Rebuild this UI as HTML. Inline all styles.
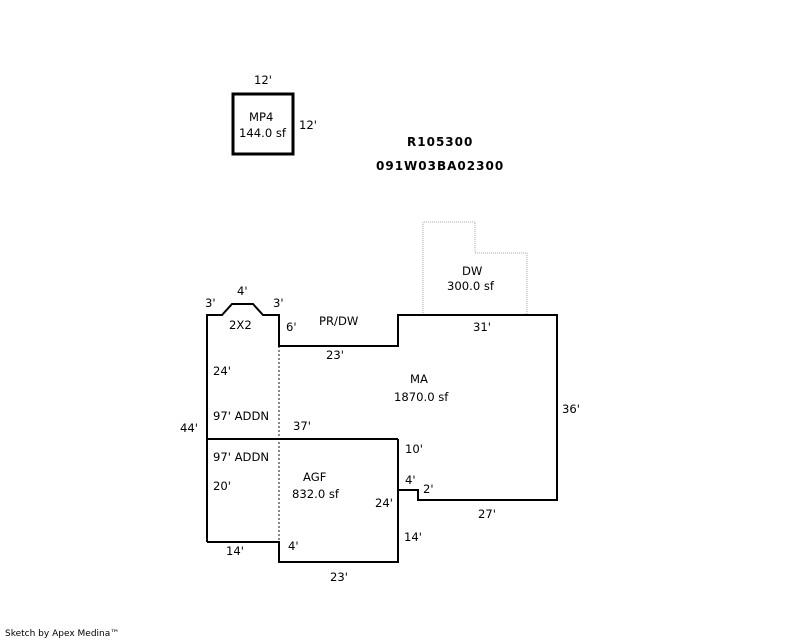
<!DOCTYPE html>
<html><head><meta charset="utf-8"><style>
html,body{margin:0;padding:0;background:#fff;}
svg{display:block;}
text{font-family:"DejaVu Sans","Liberation Sans",sans-serif;font-size:11.6px;fill:#000;}
.b{font-weight:bold;font-size:12px;letter-spacing:1px;}
</style></head><body>
<svg width="800" height="640" viewBox="0 0 800 640" xmlns="http://www.w3.org/2000/svg">
<rect x="233" y="94" width="60" height="60" fill="none" stroke="#000" stroke-width="3"/>
<polyline points="423,315 423,222 475,222 475,253 527,253 527,315" fill="none" stroke="#aaa" stroke-width="1" stroke-dasharray="1,1"/>
<line x1="279" y1="346" x2="279" y2="542" stroke="#888" stroke-width="2" stroke-dasharray="2,2"/>
<g fill="none" stroke="#000" stroke-width="2">
<polyline points="207,542 207,315 222,315 232,304 253,304 263,315 279,315 279,346 398,346 398,315 557,315 557,500 418,500 418,490 398,490"/>
<line x1="207" y1="439" x2="398" y2="439"/>
<polyline points="398,439 398,562 279,562 279,542 207,542"/>
</g>
<text x="254" y="84">12'</text>
<text x="299" y="129">12'</text>
<text x="249" y="121">MP4</text>
<text x="239" y="137">144.0 sf</text>
<text class="b" x="407" y="146">R105300</text>
<text class="b" x="376" y="170">091W03BA02300</text>
<text x="462" y="275">DW</text>
<text x="447" y="290">300.0 sf</text>
<text x="237" y="295">4'</text>
<text x="205" y="307">3'</text>
<text x="273" y="307">3'</text>
<text x="229" y="329">2X2</text>
<text x="286" y="331">6'</text>
<text x="319" y="325">PR/DW</text>
<text x="473" y="331">31'</text>
<text x="326" y="359">23'</text>
<text x="410" y="383">MA</text>
<text x="394" y="401">1870.0 sf</text>
<text x="562" y="413">36'</text>
<text x="213" y="375">24'</text>
<text x="213" y="420">97' ADDN</text>
<text x="293" y="430">37'</text>
<text x="180" y="432">44'</text>
<text x="405" y="453">10'</text>
<text x="213" y="461">97' ADDN</text>
<text x="303" y="481">AGF</text>
<text x="292" y="498">832.0 sf</text>
<text x="213" y="490">20'</text>
<text x="405" y="484">4'</text>
<text x="423" y="493">2'</text>
<text x="375" y="507">24'</text>
<text x="478" y="518">27'</text>
<text x="404" y="541">14'</text>
<text x="226" y="555">14'</text>
<text x="288" y="550">4'</text>
<text x="330" y="581">23'</text>
<text x="5" y="636" style="font-size:9px">Sketch by Apex Medina™</text>
</svg>
</body></html>
